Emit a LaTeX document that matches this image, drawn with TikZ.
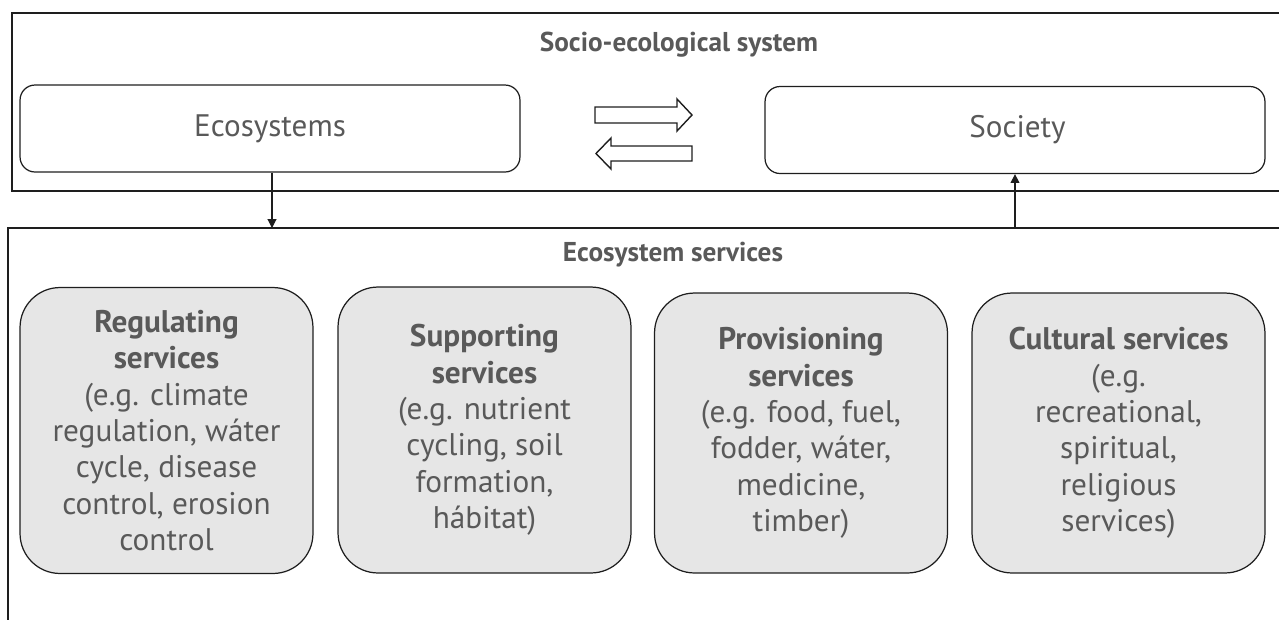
\documentclass[tikz,border=0pt]{standalone}
\usepackage{fontspec}
\setmainfont{PT Sans}
\usetikzlibrary{arrows.meta, positioning}
\definecolor{textgray}{RGB}{89,89,89}
\definecolor{boxgray}{RGB}{230,230,230}
\definecolor{linecolor}{RGB}{30,30,30}

\begin{document}
\begin{tikzpicture}[
    x=0.02cm, y=-0.02cm,
    frame/.style={draw=linecolor, line width=0.9pt},
    part/.style={draw=linecolor, line width=0.7pt, rounded corners=0.3cm, minimum width=10cm, minimum height=1.74cm, font=\fontsize{17.7}{21}\selectfont, text=textgray},
    service/.style={draw=linecolor, fill=boxgray, line width=0.7pt, rounded corners=0.8cm, minimum width=5.86cm, minimum height=5.72cm, font=\fontsize{17.8}{20.7}\selectfont, text=textgray, align=center},
    heading/.style={font=\bfseries\fontsize{15.5}{18}\selectfont, text=textgray},
    arrow/.style={-{Triangle[length=5pt, width=5pt]}, line width=0.6pt, draw=linecolor},
    flow/.style={draw=linecolor, line width=0.8pt, fill=white}
]
    \useasboundingbox (0,0) rectangle (1279,620);

    % Frames, open to the right
    \draw[frame] (1279,13) -- (12,13) -- (12,191) -- (1279,191);
    \draw[frame] (1279,228) -- (8,228) -- (8,620);
    \node[heading] (sestitle) at (679,45) {Socio-ecological system};
    \node[heading] (estitle) at (673,255) {Ecosystem services};

    % Ecosystems and society
    \node[part] (eco) at (270,128.5) {Ecosystems};
    \node[part] (soc) at (1015,130) {\hspace{0.1cm}Society};

    % Exchange arrows
    \draw[flow] (595,107) -- (677,107) -- (677,99) -- (692,115) -- (677,131) -- (677,123) -- (595,123) -- cycle;
    \draw[flow] (692,146) -- (611,146) -- (611,138) -- (596,153.5) -- (611,169) -- (611,161) -- (692,161) -- cycle;

    % Service categories
    \node[service] (reg) at (166.5,430.5) {\textbf{Regulating}\\\textbf{services}\\(e.g. climate\\regulation, wáter\\cycle, disease\\control, erosion\\control};
    \node[service] (sup) at (484.5,430) {\textbf{Supporting}\\\textbf{services}\\(e.g. nutrient\\cycling, soil\\formation,\\hábitat)};
    \node[service, minimum height=5.6cm] (pro) at (801,433) {\textbf{Provisioning}\\\textbf{services}\\(e.g. food, fuel,\\fodder, wáter,\\medicine,\\timber)};
    \node[service, minimum height=5.6cm] (cul) at (1118.5,433) {\textbf{Cultural services}\\(e.g.\\recreational,\\spiritual,\\religious\\services)};

    % Links
    \coordinate (esin) at (272,228);
    \coordinate (esout) at (1015,228);
    \draw[arrow] (eco.south -| esin) -- (esin);
    \draw[arrow] (esout) -- (soc.south -| esout);

\end{tikzpicture}
\end{document}
